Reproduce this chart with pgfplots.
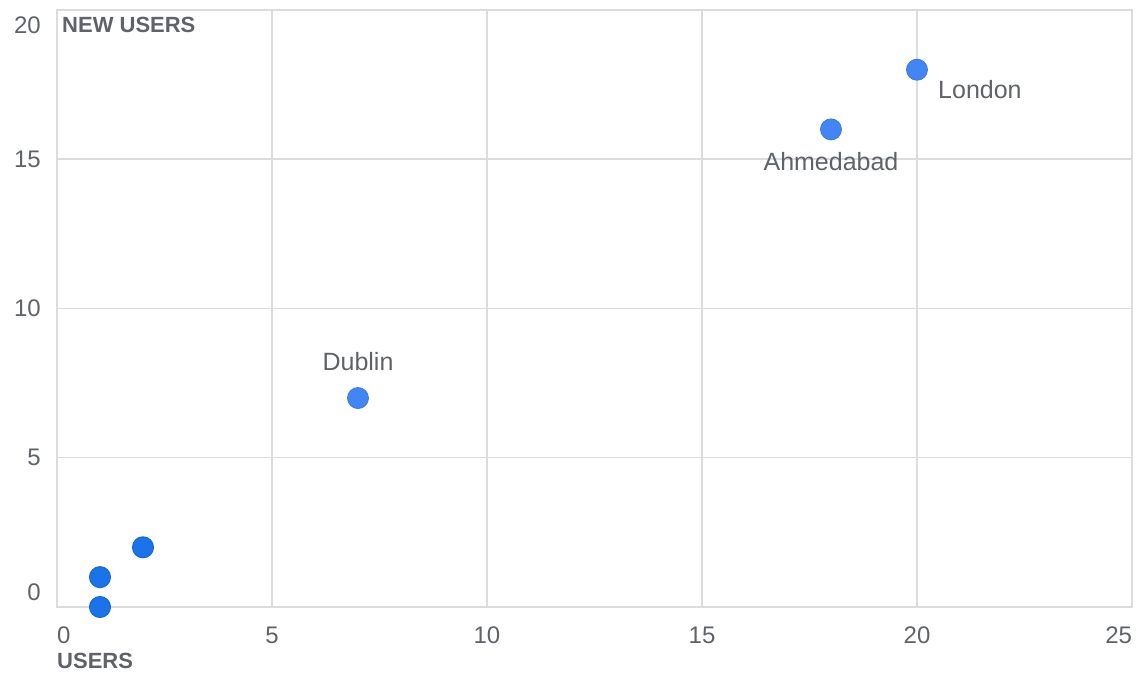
\documentclass[border=0pt]{standalone}
\usepackage{pgfplots}
\pgfplotsset{compat=1.18}
\usepackage{fontspec}
\setmainfont{Liberation Sans}
\definecolor{gridc}{HTML}{DADCE0}
\definecolor{txt}{HTML}{5F6368}
\definecolor{ptA}{HTML}{4285F4}
\definecolor{ptB}{HTML}{1A73E8}
\definecolor{edgeB}{HTML}{1967D2}
\begin{document}
\begin{tikzpicture}
\path (-57bp,-70bp) rectangle (1089bp,607bp);
\begin{axis}[
  at={(0,0)}, anchor=south west,
  scale only axis, width=1075bp, height=597bp,
  xmin=0, xmax=25, ymin=0, ymax=20,
  clip=false,
  xtick={0,5,10,15,20,25}, ytick={0,5,10,15,20},
  xticklabels={\makebox[0pt][l]{0},5,10,15,20,\makebox[0pt][r]{25}},
  yticklabels={\raisebox{15bp}[\height][\depth]{0},5,10,15,\raisebox{-15bp}[\height][\depth]{20}},
  grid=major,
  major grid style={gridc, line width=1.5bp},
  axis line style={gridc, line width=1.5bp},
  major tick length=0pt,
  tick label style={font=\fontsize{24bp}{28bp}\selectfont, text=txt, inner sep=0pt},
  xticklabel style={anchor=center, yshift=-28bp},
  yticklabel style={anchor=east, xshift=-16bp},
  every axis x label/.style={at={(rel axis cs:0,0)}, anchor=west, yshift=-54bp, inner sep=0pt,
    font=\bfseries\fontsize{22bp}{26bp}\selectfont, text=txt},
  every axis y label/.style={at={(rel axis cs:0,1)}, anchor=west, xshift=5bp, yshift=-15bp, inner sep=0pt,
    font=\bfseries\fontsize{22bp}{26bp}\selectfont, text=txt},
  xlabel={USERS}, ylabel={NEW USERS},
]
\addplot[only marks, mark=*, mark size=10.5bp,
  mark options={fill=ptB, draw=edgeB, line width=1bp}]
  coordinates {(1,0) (1,1) (2,2)};
\addplot[only marks, mark=*, mark size=10.5bp,
  mark options={fill=ptA, draw=ptA!92!black, line width=0.8bp}]
  coordinates {(7,7) (18,16) (20,18)};
\node[anchor=west, inner sep=0pt, font=\fontsize{25bp}{29bp}\selectfont, text=txt, xshift=21bp, yshift=-20bp] at (axis cs:20,18) {London};
\node[anchor=center, inner sep=0pt, font=\fontsize{25bp}{29bp}\selectfont, text=txt, yshift=-32bp] at (axis cs:18,16) {Ahmedabad};
\node[anchor=center, inner sep=0pt, font=\fontsize{25bp}{29bp}\selectfont, text=txt, yshift=36bp] at (axis cs:7,7) {Dublin};
\end{axis}
\end{tikzpicture}
\end{document}
